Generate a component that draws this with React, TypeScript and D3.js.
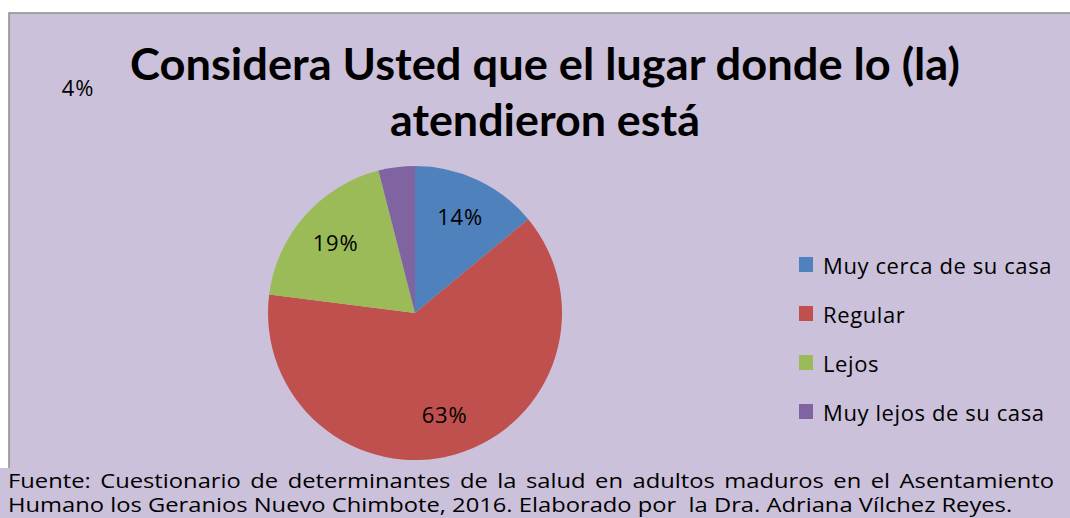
import { useEffect, useRef } from 'react';
import * as d3 from 'd3';

const categories = ['Muy cerca de su casa', 'Regular', 'Lejos', 'Muy lejos de su casa'];
const values = [14, 63, 19, 4];
const colors = ['#4F81BD', '#C0504D', '#9BBB59', '#8064A2'];
const titleLines = ['Considera Usted que el lugar donde lo (la)', 'atendieron está'];
const sourceLines = [
  'Fuente: Cuestionario de determinantes de la salud en adultos maduros en el Asentamiento',
  'Humano los Geranios Nuevo Chimbote, 2016. Elaborado por  la Dra. Adriana Vílchez Reyes.',
];
// label moved by hand in the original (the small purple slice)
const labelOverrides: Record<number, [number, number]> = { 3: [78, 96] };

const W = 1070;
const H = 518;
const BG = '#CCC1DA';
const FONT = '"Open Sans", "Noto Sans", sans-serif';
const TITLE_FONT = 'Lato, "Open Sans", sans-serif';

export default function App() {
  const srcRef = useRef<SVGGElement>(null);
  const titleRef = useRef<SVGGElement>(null);

  const cx = 415;
  const cy = 313;
  const r = 147;

  const pie = d3.pie<number>().sort(null).value((d) => d);
  const arcs = pie(values);
  const arc = d3.arc<d3.PieArcDatum<number>>().innerRadius(0).outerRadius(r);
  const labelArc = d3.arc<d3.PieArcDatum<number>>().innerRadius(r * 0.72).outerRadius(r * 0.72);
  const total = d3.sum(values);
  const legendY = d3.scalePoint<string>().domain(categories).range([265, 412]);

  useEffect(() => {
    // title: bold, squeezed horizontally to the original's width
    if (titleRef.current) {
      const g = d3.select(titleRef.current);
      g.selectAll('*').remove();
      const spots = [
        { x: 130, y: 80, w: 830 },
        { x: 390, y: 136, w: 310 },
      ];
      titleLines.forEach((line, i) => {
        const t = g
          .append('text')
          .attr('font-family', TITLE_FONT)
          .attr('font-weight', 700)
          .attr('font-size', 44)
          .attr('fill', '#000')
          .text(line);
        const n = (t.node() as SVGTextElement).getComputedTextLength();
        t.attr('transform', `translate(${spots[i].x},${spots[i].y}) scale(${spots[i].w / n},1)`);
      });
    }

    // source note: widen glyphs like the original, justify the first line
    if (srcRef.current) {
      const g = d3.select(srcRef.current);
      g.selectAll('*').remove();
      const left = 8;
      const t1 = g.append('text').attr('y', 488).text(sourceLines[0]);
      const t2 = g.append('text').attr('y', 512).text(sourceLines[1]);
      g.selectAll('text')
        .attr('font-family', FONT)
        .attr('font-size', 20)
        .attr('fill', '#000')
        .style('white-space', 'pre');
      const n2 = (t2.node() as SVGTextElement).getComputedTextLength();
      const k = (1013 - left) / n2;
      g.attr('transform', `translate(${left},0) scale(${k},1)`);
      const n1 = (t1.node() as SVGTextElement).getComputedTextLength();
      const gaps = sourceLines[0].split(' ').length - 1;
      t1.attr('word-spacing', ((1054 - left) / k - n1) / gaps);
    }
  }, []);

  return (
    <div style={{ position: 'fixed', left: 0, top: 0 }}>
      <svg width={W} height={H} style={{ display: 'block', background: '#fff' }}>
        <rect x={9} y={13} width={W} height={H} fill={BG} stroke="#8C8C8C" strokeWidth={1.5} />

        <g ref={titleRef} />

        <g transform={`translate(${cx},${cy})`}>
          {arcs.map((a, i) => (
            <path key={i} d={arc(a) || ''} fill={colors[i]} />
          ))}
        </g>

        {arcs.map((a, i) => {
          const [lx, ly] = labelOverrides[i] ?? [cx + labelArc.centroid(a)[0], cy + labelArc.centroid(a)[1] + 8];
          return (
            <text
              key={i}
              x={lx}
              y={ly}
              textAnchor="middle"
              fontFamily={FONT}
              fontSize={22}
              letterSpacing={0.8}
              fill="#000"
            >
              {`${Math.round((a.data / total) * 100)}%`}
            </text>
          );
        })}

        {categories.map((c, i) => (
          <g key={c} transform={`translate(799,${legendY(c)})`}>
            <rect x={0} y={-8} width={14} height={15} fill={colors[i]} />
            <text x={24} y={9} fontFamily={FONT} fontSize={22} letterSpacing={0.6} fill="#000">
              {c}
            </text>
          </g>
        ))}

        <rect x={0} y={468} width={W} height={H - 468} fill={BG} />
        <g ref={srcRef} />
      </svg>
    </div>
  );
}
